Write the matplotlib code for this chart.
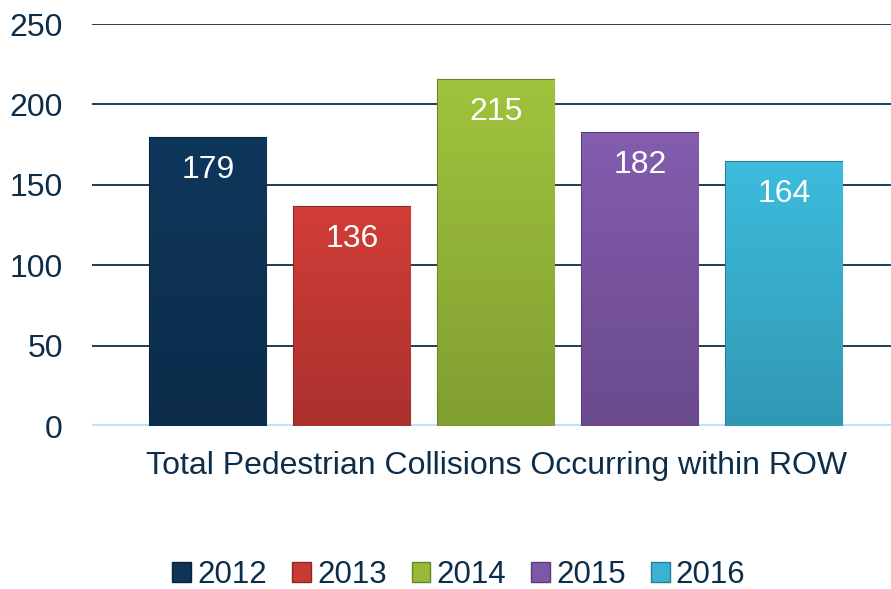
import numpy as np
import matplotlib.pyplot as plt
from matplotlib.patches import Patch
from matplotlib.colors import to_rgb

years = ['2012', '2013', '2014', '2015', '2016']
values = [179, 136, 215, 182, 164]
colors = ['#0E3457', '#C83A35', '#98BA3A', '#7D58A6', '#3AB3D3']
category = 'Total Pedestrian Collisions Occurring within ROW'
text_color = '#0D2E4B'

plt.rcParams['font.family'] = ['Liberation Sans', 'DejaVu Sans']

fig = plt.figure(figsize=(8.91, 5.89), dpi=100)
ax = fig.add_axes([92 / 891, 1 - 426 / 589, 1 - 92 / 891, 402 / 589])

x = np.arange(len(values))
bars = ax.bar(x, values, width=0.806, color=colors, zorder=3)

# soft vertical gradient + darker rim to mimic the bevel look
for bar, c, v in zip(bars, colors, values):
    rgb = np.array(to_rgb(c))
    x0, y0 = bar.get_x(), bar.get_y()
    w, h = bar.get_width(), bar.get_height()
    t = np.linspace(0, 1, 100)[:, None]
    grad = rgb * (0.85 + 0.2 * t)
    grad = np.clip(grad, 0, 1)[:, None, :].repeat(2, axis=1)
    im = ax.imshow(grad, extent=[x0, x0 + w, y0, y0 + h], origin='lower',
                   aspect='auto', zorder=3)
    im.set_clip_path(bar)
    bar.set_facecolor('none')
    bar.set_edgecolor(rgb * 0.7)
    bar.set_linewidth(1.5)
    ax.annotate(str(v), (x0 + w / 2, h), xytext=(0, -23), textcoords='offset points',
                ha='center', va='center', color='white', fontsize=23, zorder=4)

ax.set_xlim(-0.806, 4.74)
ax.set_ylim(0, 250)
ax.set_yticks(range(0, 251, 50))
ax.yaxis.grid(True, color='#0D2E4B', linewidth=1.3, zorder=0)
ax.set_axisbelow(True)
ax.axhline(0, color='#BEE3F6', linewidth=3, zorder=2)
for s in ax.spines.values():
    s.set_visible(False)
ax.tick_params(axis='y', length=0, pad=21, labelsize=23, labelcolor=text_color)
ax.set_xticks([2])
ax.set_xticklabels([category])
ax.tick_params(axis='x', length=0, pad=18, labelsize=23, labelcolor=text_color)

handles = [Patch(facecolor=c, edgecolor=np.array(to_rgb(c)) * 0.7) for c in colors]
fig.legend(handles, years, loc='center', bbox_to_anchor=(0.515, 1 - 575 / 589),
           ncol=5, frameon=False, fontsize=22.5, handlelength=0.6, handleheight=0.6,
           handletextpad=0.2, columnspacing=0.8, borderpad=0.1,
           labelcolor=text_color)

fig.savefig('out.png', dpi=100)
